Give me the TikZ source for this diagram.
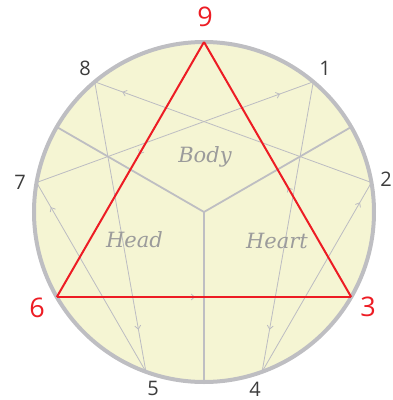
\documentclass[tikz,border=0pt]{standalone}
\usepackage{fontspec}
\setmainfont{Open Sans}
\newfontfamily\labfont{DejaVu Serif}
\usetikzlibrary{arrows.meta,decorations.markings}
\definecolor{fillc}{RGB}{245,245,211}
\definecolor{rimc}{RGB}{190,190,194}
\definecolor{redc}{RGB}{237,28,36}
\definecolor{thinc}{RGB}{188,188,194}
\definecolor{numc}{RGB}{60,60,60}
\definecolor{labc}{RGB}{155,155,155}
\begin{document}
\begin{tikzpicture}[x=1pt,y=-1pt,
  flow/.style={draw=thinc, line width=0.8pt, postaction={decorate},
    decoration={markings, mark=at position #1 with {\arrow{Straight Barb[length=3.5pt,width=6pt,line width=0.8pt,color=thinc]}}}},
  redflow/.style={draw=redc, line width=2pt, preaction={decorate},
    decoration={markings, mark=at position #1 with {\arrow{Straight Barb[length=3.5pt,width=6pt,line width=0.8pt,color=thinc]}}}},
  yline/.style={draw=rimc, line width=1.8pt},
  num/.style={text=numc, font=\fontsize{20}{20}\selectfont, inner sep=0pt},
  bignum/.style={text=redc, font=\fontsize{27}{27}\selectfont, inner sep=0pt},
  center label/.style={text=labc, font=\labfont\itshape\fontsize{21}{22}\selectfont, inner sep=0pt}
]
\useasboundingbox (0,0) rectangle (393,400);
\coordinate (ctr) at (204,212);
\fill[fillc] (ctr) circle[radius=171];
% points
\coordinate (p9) at (204,42);
\coordinate (p1) at (313.3,81.8);
\coordinate (p2) at (371.4,182.5);
\coordinate (p3) at (351.2,297);
\coordinate (p4) at (262.1,371.7);
\coordinate (p5) at (145.9,371.7);
\coordinate (p6) at (56.8,297);
\coordinate (p7) at (36.6,182.5);
\coordinate (p8) at (94.7,81.8);
\coordinate (ya) at (56.8,127);
\coordinate (yb) at (351.2,127);
\coordinate (yc) at (204,382);
% Y lines
\draw[yline] (ctr) -- (ya);
\draw[yline] (ctr) -- (yb);
\draw[yline] (ctr) -- (yc);
% hexad
\draw[flow=0.9] (p2) -- (p8);
\draw[flow=0.88] (p7) -- (p1);
\draw[flow=0.855] (p8) -- (p5);
\draw[flow=0.87] (p5) -- (p7);
\draw[flow=0.855] (p1) -- (p4);
\draw[flow=0.895] (p4) -- (p2);
% rim
\draw[rimc, line width=4pt] (ctr) circle[radius=170];
% triangle
\draw[redflow=0.44] (p9) -- (p6);
\draw[redflow=0.47] (p6) -- (p3);
\draw[redflow=0.43] (p3) -- (p9);
% labels
\node[center label] (body) at (205,157) {Body};
\node[center label] (head) at (134.5,240) {Head};
\node[center label] (heart) at (277,241) {Heart};
\node[bignum] (n9) at (205,17) {9};
\node[bignum] (n6) at (37,308) {6};
\node[bignum] (n3) at (368,307) {3};
\node[num] (n1) at (325,68) {1};
\node[num] (n2) at (386,179) {2};
\node[num] (n4) at (255,389.5) {4};
\node[num] (n5) at (153,388.5) {5};
\node[num] (n7) at (20,182) {7};
\node[num] (n8) at (85,68) {8};
\end{tikzpicture}
\end{document}
